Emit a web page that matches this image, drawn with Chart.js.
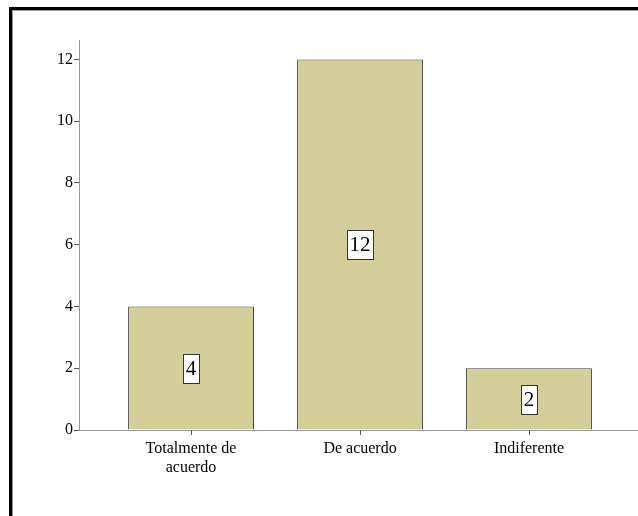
<!DOCTYPE html>
<html>
<head>
<meta charset="utf-8">
<script src="https://cdn.jsdelivr.net/npm/chart.js@4"></script>
<style>
  html, body { margin: 0; padding: 0; background: #fff; }
  #wrap { width: 638px; height: 516px; position: relative; }
</style>
</head>
<body>
<div id="wrap"><canvas id="chart" width="638" height="516"></canvas></div>
<script>
// data
const categories = [['Totalmente de', 'acuerdo'], 'De acuerdo', 'Indiferente'];
const counts = [4, 12, 2];
const yTicks = [0, 2, 4, 6, 8, 10, 12];

const serif = "'Liberation Serif', 'Times New Roman', serif";

// frame around the whole picture (double line, SPSS style)
const framePlugin = {
    id: 'frame',
    beforeDraw(chart) {
        const ctx = chart.ctx;
        ctx.save();
        ctx.fillStyle = '#fff';
        ctx.fillRect(0, 0, chart.width, chart.height);
        ctx.fillStyle = '#000';
        ctx.fillRect(9, 7, chart.width - 9, 3);
        ctx.fillRect(9, 7, 3, chart.height - 7);
        ctx.fillStyle = '#9a9a9a';
        ctx.fillRect(12, 10, chart.width - 12, 1);
        ctx.fillRect(12, 10, 1, chart.height - 10);
        ctx.restore();
    }
};

// small tick marks under the x axis at each category
const xTickMarks = {
    id: 'xTickMarks',
    afterDraw(chart) {
        const ctx = chart.ctx;
        const xs = chart.scales.x;
        const y = Math.round(chart.chartArea.bottom);
        ctx.save();
        ctx.strokeStyle = '#555';
        ctx.lineWidth = 1;
        categories.forEach((c, i) => {
            const x = Math.round(xs.getPixelForValue(i)) + 0.5;
            ctx.beginPath();
            ctx.moveTo(x, y);
            ctx.lineTo(x, y + 5);
            ctx.stroke();
        });
        ctx.restore();
    }
};

// value boxes in the middle of each bar
const boxLabels = {
    id: 'boxLabels',
    afterDatasetsDraw(chart) {
        const ctx = chart.ctx;
        const meta = chart.getDatasetMeta(0);
        const yScale = chart.scales.y;
        ctx.save();
        ctx.font = '21px ' + serif;
        ctx.textAlign = 'center';
        ctx.textBaseline = 'middle';
        meta.data.forEach((bar, i) => {
            const v = counts[i];
            const cy = yScale.getPixelForValue(v / 2);
            const txt = String(v);
            const w = Math.round(ctx.measureText(txt).width) + 5;
            const h = 29;
            const x0 = Math.round(bar.x - w / 2) + 0.5;
            const y0 = Math.round(cy - h / 2) + 0.5;
            ctx.fillStyle = '#fff';
            ctx.fillRect(x0, y0, w, h);
            ctx.strokeStyle = '#333';
            ctx.lineWidth = 1;
            ctx.strokeRect(x0, y0, w, h);
            ctx.fillStyle = '#000';
            ctx.fillText(txt, bar.x, cy + 1);
        });
        ctx.restore();
    }
};

new Chart(document.getElementById('chart'), {
    type: 'bar',
    data: {
        datasets: [{
            data: counts.map((v, i) => ({ x: i, y: v })),
            backgroundColor: '#d3ce9a',
            borderColor: '#444',
            borderWidth: 1,
            barPercentage: 0.745,
            categoryPercentage: 1
        }]
    },
    options: {
        responsive: false,
        animation: false,
        layout: { padding: { left: 0, right: 0, top: 40, bottom: 0 } },
        plugins: { legend: { display: false }, tooltip: { enabled: false } },
        scales: {
            x: {
                type: 'linear',
                offset: false,
                min: -0.663,
                max: 2.645,
                afterBuildTicks: axis => { axis.ticks = categories.map((c, i) => ({ value: i })); },
                afterFit: axis => { axis.height = 86; },
                ticks: {
                    callback: v => categories[v],
                    color: '#000',
                    font: { family: serif, size: 16 },
                    padding: 4,
                    maxRotation: 0,
                    autoSkip: false
                },
                grid: { display: true, drawOnChartArea: false, drawTicks: true, tickLength: 5, tickColor: 'rgba(0,0,0,0)' },
                border: { color: '#999', width: 1 }
            },
            y: {
                min: 0,
                max: 12.63,
                afterBuildTicks: axis => { axis.ticks = yTicks.map(v => ({ value: v })); },
                afterFit: axis => { axis.width = 79; },
                ticks: {
                    color: '#000',
                    font: { family: serif, size: 16 },
                    padding: 1
                },
                grid: { display: true, drawOnChartArea: false, drawTicks: true, tickLength: 5, tickColor: '#555' },
                border: { color: '#999', width: 1 }
            }
        }
    },
    plugins: [framePlugin, boxLabels, xTickMarks]
});
</script>
</body>
</html>
